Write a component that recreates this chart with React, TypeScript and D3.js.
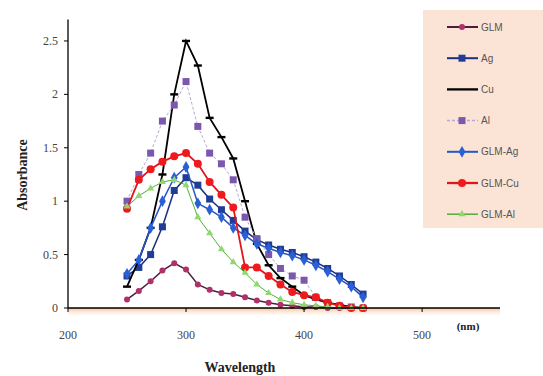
import * as d3 from 'd3'

const wavelengths = [250, 260, 270, 280, 290, 300, 310, 320, 330, 340, 350, 360, 370, 380, 390, 400, 410, 420, 430, 440, 450]
const glm = [0.08, 0.16, 0.25, 0.35, 0.42, 0.36, 0.22, 0.17, 0.14, 0.13, 0.1, 0.07, 0.05, 0.03, 0.02, 0.01, 0.01, 0, 0, 0, 0]
const ag = [0.3, 0.38, 0.5, 0.76, 1.1, 1.22, 1.15, 1.02, 0.92, 0.82, 0.72, 0.64, 0.59, 0.55, 0.52, 0.48, 0.43, 0.37, 0.3, 0.22, 0.13]
const cu = [0.2, 0.45, 0.75, 1.25, 2.0, 2.5, 2.27, 1.78, 1.6, 1.4, 1.0, 0.6, 0.4, 0.28, 0.2, 0.12, 0.08, 0.05, 0.03, 0.01, 0]
const al = [1.0, 1.25, 1.45, 1.75, 1.9, 2.12, 1.7, 1.45, 1.35, 1.2, 0.85, 0.65, 0.5, 0.37, 0.3, 0.26, 0.1, 0.05, 0.02, 0.01, 0]
const glmAg = [0.32, 0.45, 0.75, 1.0, 1.22, 1.32, 0.98, 0.92, 0.85, 0.75, 0.68, 0.6, 0.56, 0.52, 0.49, 0.45, 0.4, 0.34, 0.27, 0.2, 0.1]
const glmCu = [0.93, 1.2, 1.3, 1.37, 1.42, 1.45, 1.35, 1.18, 1.06, 0.94, 0.38, 0.38, 0.3, 0.22, 0.15, 0.12, 0.1, 0.05, 0.02, 0, 0]
const glmAl = [0.95, 1.05, 1.12, 1.18, 1.2, 1.15, 0.85, 0.7, 0.55, 0.43, 0.33, 0.22, 0.14, 0.08, 0.05, 0.03, 0.02, 0.01, 0, 0, 0]

const yTicks = [0, 0.5, 1, 1.5, 2, 2.5]
const yTickLabels = ['0', '0.5', '1', '1.5', '2', '2.5']
const xTicks = [200, 300, 400, 500]

type Series = { name: string; values: number[]; line: string; marker: string; shape: string; dash?: string; width: number }

const series: Series[] = [
  { name: 'GLM', values: glm, line: '#4a1f3c', marker: '#b0306a', shape: 'circle', width: 1.5 },
  { name: 'Ag', values: ag, line: '#1c2f7a', marker: '#1f3c96', shape: 'square', width: 1.5 },
  { name: 'Cu', values: cu, line: '#000000', marker: '#000000', shape: 'dash', width: 1.8 },
  { name: 'Al', values: al, line: '#b9a6d8', marker: '#7b58ad', shape: 'square', dash: '3,2', width: 1 },
  { name: 'GLM-Ag', values: glmAg, line: '#2456c8', marker: '#2a5fd6', shape: 'diamond', width: 1.5 },
  { name: 'GLM-Cu', values: glmCu, line: '#e0161c', marker: '#ee1a1e', shape: 'bigcircle', width: 1.8 },
  { name: 'GLM-Al', values: glmAl, line: '#4fae3a', marker: '#8fd870', shape: 'triangle', width: 1 },
]

const x = d3.scaleLinear().domain([200, 566]).range([68, 500])
const y = d3.scaleLinear().domain([0, 2.7]).range([308, 19.6])

const Marker = ({ s, cx, cy }: { s: Series; cx: number; cy: number }) => {
  if (s.shape === 'circle') return <circle cx={cx} cy={cy} r={3} fill={s.marker} />
  if (s.shape === 'bigcircle') return <circle cx={cx} cy={cy} r={4} fill={s.marker} />
  if (s.shape === 'square') return <rect x={cx - 3.5} y={cy - 3.5} width={7} height={7} fill={s.marker} />
  if (s.shape === 'dash') return <rect x={cx - 4} y={cy - 1.2} width={8} height={2.4} fill={s.marker} />
  if (s.shape === 'diamond') return <path d={d3.symbol(d3.symbolDiamond, 40)() || ''} transform={`translate(${cx},${cy})`} fill={s.marker} />
  return <path d={d3.symbol(d3.symbolTriangle, 22)() || ''} transform={`translate(${cx},${cy})`} fill={s.marker} />
}

export default function App() {
  const lineGen = d3.line<number>()
    .x((_, i) => x(wavelengths[i]))
    .y(d => y(d))

  const legendY = (i: number) => 27 + i * 31.2

  return (
    <svg width={543} height={376} style={{ position: 'absolute', left: 0, top: 0, background: '#fff' }}>
      <defs>
        <linearGradient id="axisShade" x1="0" y1="0" x2="0" y2="1">
          <stop offset="0" stopColor="#f6b98a" stopOpacity={0.9} />
          <stop offset="1" stopColor="#fde8d8" stopOpacity={0} />
        </linearGradient>
      </defs>

      {/* legend */}
      <rect x={423} y={10} width={125} height={218} fill="#fbe4d5" />
      {series.map((s, i) => (
        <g key={s.name}>
          <line x1={447} x2={478} y1={legendY(i)} y2={legendY(i)} stroke={s.line} strokeWidth={s.width + 0.5} strokeDasharray={s.dash} />
          {s.name !== 'Cu' && <Marker s={s} cx={462} cy={legendY(i)} />}
          <text x={481} y={legendY(i) + 3.5} fontFamily="Liberation Sans" fontSize={10} fill="#555">{s.name}</text>
        </g>
      ))}

      {/* shading under x axis */}
      <rect x={68} y={308} width={432} height={8} fill="url(#axisShade)" />

      {/* series */}
      {series.map(s => (
        <g key={s.name}>
          <path d={lineGen(s.values) || ''} fill="none" stroke={s.line} strokeWidth={s.width} strokeDasharray={s.dash} />
          {s.values.map((v, i) => (
            <Marker key={i} s={s} cx={x(wavelengths[i])} cy={y(v)} />
          ))}
        </g>
      ))}

      {/* axes */}
      <line x1={68} x2={68} y1={19.6} y2={308} stroke="#000" strokeWidth={1.3} />
      <line x1={68} x2={500} y1={308} y2={308} stroke="#000" strokeWidth={1.3} />
      {yTicks.map((t, i) => (
        <g key={t}>
          <line x1={64} x2={68} y1={y(t)} y2={y(t)} stroke="#000" />
          <text x={58} y={y(t) + 4} textAnchor="end" fontFamily="Liberation Serif" fontSize={12} fill="#444">{yTickLabels[i]}</text>
        </g>
      ))}
      {xTicks.map(t => (
        <g key={t}>
          <line x1={x(t)} x2={x(t)} y1={308} y2={312} stroke="#000" />
          <text x={x(t)} y={339} textAnchor="middle" fontFamily="Liberation Serif" fontSize={12} fill="#444">{t}</text>
        </g>
      ))}
      <text x={468} y={330} textAnchor="middle" fontFamily="Liberation Serif" fontSize={11} fontWeight="bold" fill="#222">(nm)</text>
      <text x={240} y={372} textAnchor="middle" fontFamily="Liberation Serif" fontSize={14} fontWeight="bold" fill="#222">Wavelength</text>
      <text transform="translate(27,175) rotate(-90)" textAnchor="middle" fontFamily="Liberation Serif" fontSize={14} fontWeight="bold" fill="#222">Absorbance</text>
    </svg>
  )
}
